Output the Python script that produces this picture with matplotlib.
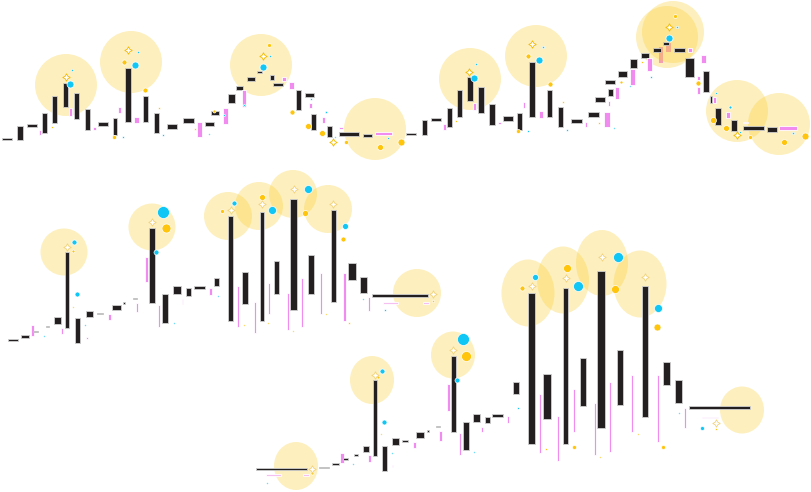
import matplotlib.pyplot as plt
from matplotlib.patches import Ellipse

# ---- top strip: candle spans (left, right) and body (high, low), screen units ----
top_x0 = [2, 17, 27, 39, 42, 52, 63, 69, 74, 85, 93, 98, 113, 118, 125, 134, 143, 154, 167, 183,
          197, 205, 211, 223, 228, 236, 242, 247, 257, 270, 273, 282, 289, 296, 305, 309, 311, 322, 327, 339,
          339, 363, 375,
          406, 422, 431, 443, 447, 457, 467, 473, 478, 489, 498, 503, 517, 523, 529, 539, 547, 558, 571, 585,
          588, 595, 604, 608, 608, 605, 615, 618, 630, 630, 641, 647, 653, 659, 663, 666, 674, 688, 685, 701,
          697, 703, 697, 710, 713, 715, 726, 731, 743, 743, 767, 779]
top_x1 = [12, 23, 37, 41, 47, 57, 68, 72, 79, 90, 96, 108, 117, 121, 131, 139, 148, 159, 177, 194,
          202, 214, 219, 228, 235, 243, 246, 255, 262, 274, 283, 286, 294, 301, 314, 312, 316, 325, 332, 343,
          359, 372, 392,
          416, 427, 441, 446, 452, 462, 473, 476, 484, 495, 501, 513, 522, 525, 535, 543, 552, 563, 582, 587,
          599, 605, 610, 610, 613, 615, 619, 627, 635, 637, 649, 652, 661, 663, 669, 671, 685, 692, 694, 706,
          700, 709, 700, 712, 716, 721, 730, 737, 748, 764, 777, 797]
top_hi = [138, 126, 124, 130, 113, 96, 83, 108, 93, 109, 127, 122, 118, 107, 68, 117, 96, 113, 124, 118,
          122, 122, 111, 108, 94, 86, 90, 77, 71, 75, 83, 77, 82, 90, 93, 103, 114, 117, 126, 127,
          132, 134, 132,
          133, 120, 118, 124, 108, 90, 77, 103, 87, 104, 122, 116, 113, 102, 62, 111, 90, 107, 119, 122,
          112, 97, 112, 101, 89, 80, 87, 71, 69, 59, 53, 58, 48, 47, 42, 43, 48, 48, 58, 55,
          76, 71, 87, 96, 97, 108, 112, 120, 122, 126, 127, 126]
top_lo = [140, 140, 127, 135, 133, 123, 107, 116, 119, 130, 130, 126, 135, 113, 122, 123, 122, 133, 129, 123,
          137, 126, 115, 124, 103, 90, 107, 81, 73, 80, 86, 81, 89, 110, 97, 108, 130, 123, 137, 129,
          136, 137, 135,
          135, 135, 121, 130, 127, 117, 101, 110, 113, 125, 124, 121, 130, 108, 117, 118, 117, 127, 123, 127,
          117, 102, 127, 106, 96, 84, 99, 77, 85, 68, 58, 71, 52, 63, 45, 52, 52, 52, 77, 63,
          80, 92, 94, 103, 103, 125, 118, 131, 123, 130, 132, 130]
top_kind = list("kkkpkkkpkk" "pkkpkpkkkk" "pkkpkkpkkk" "kppkkpkpkp" "kkp"
                "kkkpkkkpkk" "pkkpkpkkkp" "kkppkkpkpk" "kpkokokpkp" "pkpkpkpkpkkp")

# ---- middle strip ----
mid_x0 = [8, 21, 31, 33, 46, 54, 61, 65, 75, 86, 86, 97, 108, 112, 123, 133, 136, 145, 149, 158,
          162, 173, 182, 186, 194, 209, 214, 228, 237, 242, 254, 260, 268, 274, 287, 290, 301, 308, 320, 331,
          343, 348, 360, 368, 372, 383, 423]
mid_x1 = [18, 29, 34, 38, 49, 61, 63, 69, 80, 88, 93, 103, 111, 121, 125, 137, 138, 148, 155, 160,
          168, 181, 183, 191, 205, 212, 219, 233, 239, 248, 256, 264, 270, 279, 289, 297, 303, 314, 322, 336,
          346, 356, 367, 370, 428, 398, 429]
mid_hi = [339, 335, 325, 331, 326, 317, 328, 252, 318, 337, 311, 313, 314, 305, 302, 298, 303, 257, 228, 305,
          294, 286, 299, 288, 286, 288, 278, 216, 286, 272, 302, 212, 283, 261, 293, 199, 278, 255, 273, 210,
          273, 263, 277, 297, 294, 302, 302]
mid_lo = [341, 338, 336, 332, 327, 324, 334, 328, 343, 339, 317, 314, 320, 310, 304, 299, 312, 282, 303, 327,
          323, 294, 304, 296, 289, 295, 286, 321, 327, 304, 333, 321, 314, 294, 330, 310, 327, 294, 314, 302,
          321, 280, 293, 311, 297, 304, 304]
mid_kind = ["k", "k", "p", "k", "k", "k", "p", "k", "k", "p", "k", "k", "p", "k", "k", "k", "p", "p", "k", "p",
            "k", "k", "p", "k", "k", "p", "k", "k", "p", "k", "p", "k", "p", "k", "p", "k", "p", "k", "p", "k",
            "p", "k", "k", "p", "k", "l", "l"]

# ---- bottom strip ----
bot_x0 = [256, 266, 303, 319, 332, 340, 343, 354, 363, 368, 373, 382, 392, 392, 402, 413, 416, 427, 436, 439,
          447, 451, 459, 463, 473, 481, 485, 492, 507, 513, 528, 539, 543, 557, 563, 573, 580, 594, 597, 609,
          617, 631, 642, 657, 663, 675, 684, 689, 702]
bot_x1 = [307, 281, 309, 329, 339, 344, 348, 358, 369, 371, 377, 387, 393, 399, 408, 416, 424, 429, 440, 442,
          450, 456, 461, 469, 480, 483, 490, 503, 509, 519, 535, 541, 551, 559, 568, 575, 586, 596, 605, 611,
          623, 633, 648, 659, 670, 682, 686, 750, 718]
bot_hi = [468, 474, 474, 467, 463, 453, 458, 454, 446, 455, 380, 446, 465, 438, 440, 442, 432, 430, 426, 431,
          384, 356, 433, 422, 414, 427, 417, 414, 416, 382, 293, 394, 374, 416, 288, 389, 358, 403, 271, 382,
          350, 375, 286, 375, 362, 380, 408, 406, 417]
bot_lo = [470, 476, 476, 468, 465, 463, 460, 456, 452, 462, 456, 471, 467, 445, 442, 448, 438, 432, 427, 441,
          411, 432, 455, 450, 422, 432, 423, 417, 423, 394, 444, 453, 419, 461, 444, 432, 406, 455, 428, 452,
          405, 432, 417, 442, 385, 403, 428, 409, 418]
bot_kind = ["k", "l", "l", "k", "k", "p", "k", "k", "k", "p", "k", "k", "p", "k", "k", "p", "k", "k", "k", "p",
            "p", "k", "p", "k", "k", "p", "k", "k", "p", "k", "k", "p", "k", "p", "k", "p", "k", "p", "k", "p",
            "k", "p", "k", "p", "k", "k", "p", "k", "p"]

# ---- halos (centre, half width, half height) ----
top_halo_x = [66, 131, 261, 375, 470, 536, 667, 673, 737, 779]
top_halo_y = [85, 62, 65, 129, 79, 56, 37, 32, 111, 124]
top_halo_rx = [31] * 10
top_halo_ry = [31] * 10
mid_halo_x = [64, 152, 228, 259, 293, 328, 417]
mid_halo_y = [252, 227, 216, 206, 194, 209, 293]
mid_halo_rx = [23.5, 23.5, 24, 24, 24, 24, 24]
mid_halo_ry = [23.5, 23.5, 24, 24, 24, 24, 24]
bot_halo_x = [296, 372, 453, 528, 563, 602, 640, 742]
bot_halo_y = [466, 380, 355, 293, 280, 263, 284, 410]
bot_halo_rx = [22, 22, 22, 26.5, 26, 26, 26.5, 22]
bot_halo_ry = [24, 24, 23.5, 33.5, 33.5, 33, 33.5, 23.5]

# ---- dots (x, y, radius, c=cyan / g=gold) ----
top_dot_x = [70, 135, 263, 72, 138, 270, 123, 163, 209, 244, 311, 326, 335, 388, 224,
             474, 539, 669, 476, 543, 677, 528, 567, 651, 630, 614, 730, 716, 740, 793,
             124, 145, 269, 292, 308, 322, 346, 380, 401, 52, 114, 159, 195, 214,
             528, 550, 518, 456, 563, 599, 621, 642, 698, 713, 726, 750, 784, 805, 675]
top_dot_y = [84, 65, 67, 70, 52, 56, 137, 135, 134, 105, 99, 112, 137, 138, 115,
             78, 60, 38, 64, 47, 27, 131, 130, 77, 86, 128, 107, 93, 132, 133,
             62, 90, 45, 112, 126, 133, 142, 147, 142, 127, 137, 108, 129, 111,
             56, 84, 131, 121, 102, 123, 82, 62, 83, 120, 128, 137, 142, 136, 16]
top_dot_r = [3.5, 3.5, 3.5, 1.2, 1.2, 1.2, 1, 1, 0.8, 1, 1, 1.2, 0.8, 1, 1,
             3.5, 3.5, 3.5, 1.2, 1.2, 1.2, 1, 1, 1, 0.8, 0.8, 1.5, 1, 1, 1.2,
             2.5, 2.5, 2, 2.5, 3, 3, 2, 3, 3.5, 1, 2, 1, 1, 1.5,
             2.5, 2.5, 2, 1, 1, 1, 1.5, 1, 2.5, 3, 3, 2, 3, 3.5, 2]
top_dot_c = list("c" * 30 + "g" * 29)

mid_dot_x = [74, 77, 163, 156, 234, 272, 308, 345, 385, 44, 85, 174, 218, 363,
             166, 222, 262, 305, 343, 73, 244, 268, 293, 326, 349, 433, 73]
mid_dot_y = [242, 294, 212, 252, 203, 210, 189, 226, 310, 336, 325, 323, 296, 299,
             228, 211, 197, 213, 239, 307, 325, 323, 331, 314, 323, 301, 251]
mid_dot_r = [2.5, 2.5, 6, 2.5, 2.5, 4, 4, 3, 1, 0.8, 0.8, 0.8, 0.8, 0.8,
             4.5, 2, 3, 3, 2.5, 0.8, 0.8, 0.8, 0.8, 0.8, 1, 1.2, 1.5]
mid_dot_c = list("c" * 14 + "g" * 13)

bot_dot_x = [382, 384, 463, 457, 535, 578, 618, 658, 702, 267, 353, 392, 474, 518, 679,
             466, 522, 567, 615, 657, 312, 381, 546, 574, 600, 638, 663, 716, 378]
bot_dot_y = [371, 422, 339, 380, 277, 286, 257, 308, 428, 483, 464, 453, 452, 408, 413,
             356, 288, 268, 289, 327, 473, 434, 449, 447, 457, 434, 447, 429, 377]
bot_dot_r = [2.5, 2.5, 6, 2.5, 3, 5, 5, 4, 2, 0.8, 0.8, 0.8, 0.8, 1, 0.8,
             5, 2.5, 4, 4, 3.5, 1.5, 0.8, 1, 2, 0.8, 0.8, 2, 1, 1.5]
bot_dot_c = list("c" * 15 + "g" * 14)

# ---- sparkles ----
top_star_x = [66, 128, 263, 333, 469, 532, 669, 737]
top_star_y = [77, 50, 56, 142, 72, 44, 27, 135]
mid_star_x = [67, 152, 231, 262, 294, 333, 433]
mid_star_y = [247, 222, 210, 204, 189, 204, 294]
bot_star_x = [312, 375, 453, 532, 566, 602, 645, 716]
bot_star_y = [469, 375, 350, 286, 278, 257, 277, 423]

BODY = {"k": "#231f20", "p": "#f28bf0", "l": "#f6bff2", "o": "#f28bf0"}
EDGE = {"k": "#cfcfcf", "p": "white", "l": "white", "o": "none"}
DOT = {"c": "#10c6f4", "g": "#ffc40c"}
HALO = "#facd28"


def draw_strip(ax, x0, x1, hi, lo, kind, hx, hy, hrx, hry, dx, dy, dr, dc, sx, sy, star_col):
    for cx, cy, rx, ry in zip(hx, hy, hrx, hry):
        ax.add_patch(Ellipse((cx, cy), 2 * rx, 2 * ry, facecolor=HALO, alpha=0.3,
                             edgecolor="none", zorder=1))
    for a, b, h, l, k in zip(x0, x1, hi, lo, kind):
        ax.bar(a, l - h, bottom=h, width=b - a, align="edge", color=BODY[k],
               edgecolor=EDGE[k], linewidth=0.6, zorder=0.5 if k == "o" else 2)
    for x, y, r, c in zip(dx, dy, dr, dc):
        ax.scatter(x, y, s=(2 * r * 0.72) ** 2, color=DOT[c], edgecolors="white",
                   linewidths=0.5, zorder=3)
    ax.scatter(sx, sy, marker=(4, 1, 0), s=28, facecolors="white", edgecolors=star_col,
               linewidths=0.6, zorder=4)


fig = plt.figure(figsize=(8.12, 4.92), dpi=100)
ax = fig.add_axes([0, 0, 1, 1])
ax.set_xlim(0, 812)
ax.set_ylim(492, 0)
ax.axis("off")

draw_strip(ax, top_x0, top_x1, top_hi, top_lo, top_kind,
           top_halo_x, top_halo_y, top_halo_rx, top_halo_ry,
           top_dot_x, top_dot_y, top_dot_r, top_dot_c, top_star_x, top_star_y, "#f5b800")
draw_strip(ax, mid_x0, mid_x1, mid_hi, mid_lo, mid_kind,
           mid_halo_x, mid_halo_y, mid_halo_rx, mid_halo_ry,
           mid_dot_x, mid_dot_y, mid_dot_r, mid_dot_c, mid_star_x, mid_star_y, "#f2d27a")
draw_strip(ax, bot_x0, bot_x1, bot_hi, bot_lo, bot_kind,
           bot_halo_x, bot_halo_y, bot_halo_rx, bot_halo_ry,
           bot_dot_x, bot_dot_y, bot_dot_r, bot_dot_c, bot_star_x, bot_star_y, "#f2d27a")

fig.savefig("out.png", dpi=100)
